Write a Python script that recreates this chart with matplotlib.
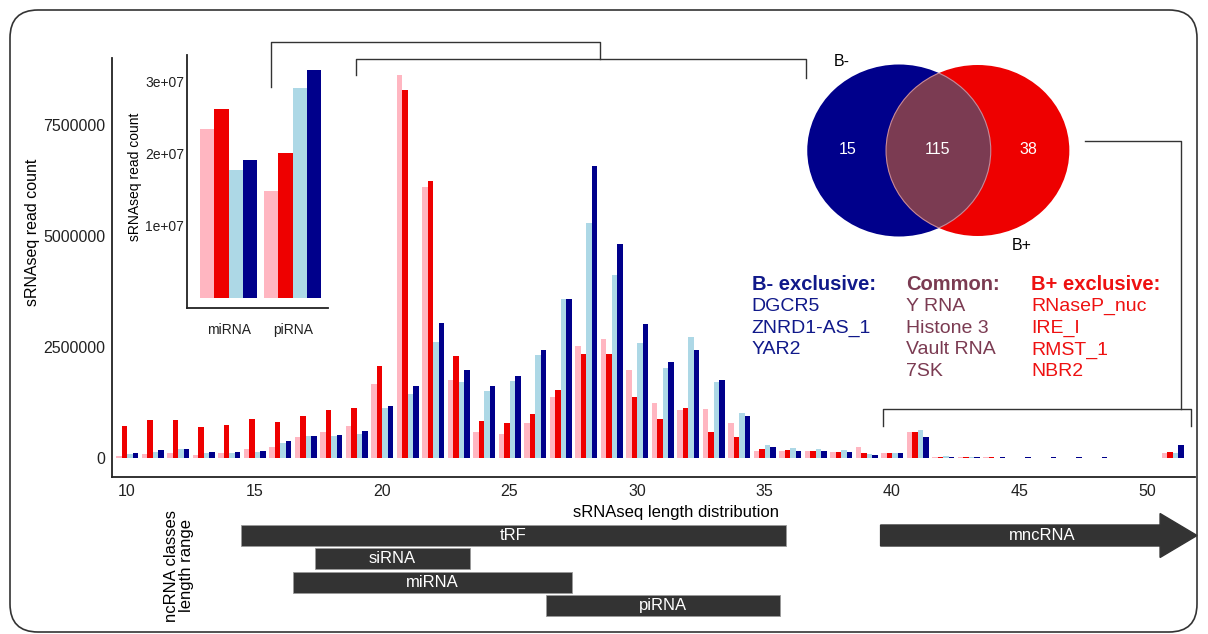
import matplotlib
matplotlib.use('Agg')
import matplotlib.pyplot as plt
import numpy as np
from matplotlib.patches import Ellipse, FancyBboxPatch, FancyArrow

plt.rcParams['font.family'] = ['Liberation Sans', 'DejaVu Sans']

W, H = 1208, 634

# ---------------- data ----------------
lengths = list(range(10, 52))
# read counts in millions, per length (10..51)
bplus_light = [0.05, 0.10, 0.13, 0.07, 0.13, 0.22, 0.26, 0.48, 0.59, 0.74,
               1.67, 8.63, 6.12, 1.76, 0.60, 0.56, 0.80, 1.39, 2.54, 2.69,
               1.99, 1.24, 1.09, 1.11, 0.80, 0.17, 0.17, 0.16, 0.15, 0.25,
               0.13, 0.59, 0.03, 0.02, 0.02, 0.00, 0.00, 0.00, 0.00, 0.00,
               0.00, 0.13]
bplus_dark = [0.73, 0.87, 0.86, 0.71, 0.75, 0.89, 0.83, 0.95, 1.08, 1.14,
              2.09, 8.31, 6.25, 2.30, 0.84, 0.79, 0.99, 1.55, 2.35, 2.35,
              1.39, 0.89, 1.13, 0.59, 0.49, 0.20, 0.19, 0.16, 0.15, 0.13,
              0.13, 0.60, 0.04, 0.02, 0.02, 0.00, 0.00, 0.00, 0.00, 0.00,
              0.00, 0.15]
bminus_light = [0.09, 0.14, 0.21, 0.13, 0.13, 0.14, 0.34, 0.50, 0.50, 0.56,
                1.13, 1.46, 2.62, 1.73, 1.52, 1.74, 2.33, 3.60, 5.31, 4.12,
                2.59, 2.03, 2.73, 1.73, 1.03, 0.30, 0.23, 0.20, 0.18, 0.10,
                0.13, 0.64, 0.05, 0.02, 0.01, 0.01, 0.01, 0.01, 0.01, 0.00,
                0.00, 0.13]
bminus_dark = [0.11, 0.19, 0.22, 0.15, 0.14, 0.16, 0.39, 0.50, 0.52, 0.61,
               1.19, 1.64, 3.05, 2.00, 1.63, 1.86, 2.45, 3.60, 6.58, 4.83,
               3.02, 2.16, 2.44, 1.76, 0.95, 0.26, 0.17, 0.16, 0.15, 0.08,
               0.13, 0.49, 0.03, 0.02, 0.02, 0.02, 0.02, 0.02, 0.02, 0.00,
               0.00, 0.31]
series_colors = ['#FFB6C1', '#EE0000', '#ADD8E6', '#00008B']

y_ticks = [0, 2500000, 5000000, 7500000]
y_ticklabels = ['0', '2500000', '5000000', '7500000']
x_ticks = [10, 15, 20, 25, 30, 35, 40, 45, 50]

inset_categories = ['miRNA', 'piRNA']
inset_bplus_light = [2.34e7, 1.49e7]
inset_bplus_dark = [2.63e7, 2.02e7]
inset_bminus_light = [1.78e7, 2.91e7]
inset_bminus_dark = [1.92e7, 3.17e7]
inset_ticks = [1e7, 2e7, 3e7]
inset_ticklabels = ['1e+07', '2e+07', '3e+07']

class_names = ['tRF', 'siRNA', 'miRNA', 'piRNA']
class_start = [14.47, 17.37, 16.50, 26.43]
class_end = [35.84, 23.45, 27.45, 35.60]
mnc_name = 'mncRNA'
mnc_start, mnc_end = 39.55, 51.96

venn_counts = [15, 115, 38]
venn_sets = ['B-', 'B+']

bminus_exclusive = ['DGCR5', 'ZNRD1-AS_1', 'YAR2']
common = ['Y RNA', 'Histone 3', 'Vault RNA', '7SK']
bplus_exclusive = ['RNaseP_nuc', 'IRE_I', 'RMST_1', 'NBR2']

# ---------------- figure ----------------
fig = plt.figure(figsize=(W / 100, H / 100), dpi=100)
fig.patch.set_facecolor('white')


def rect(l, t, r, b):
    return [l / W, 1 - b / H, (r - l) / W, (b - t) / H]


# main chart
ax = fig.add_axes(rect(112, 58, 1195, 477))
x = np.array(lengths, dtype=float)
w = 0.216
for i, (vals, c) in enumerate(zip([bplus_light, bplus_dark, bminus_light, bminus_dark], series_colors)):
    ax.bar(x + (i - 1.5) * w, np.array(vals) * 1e6, width=w, color=c, linewidth=0)
ax.set_xlim(9.41, 51.88)
ax.set_ylim(-0.42e6, 9.02e6)
ax.set_yticks(y_ticks)
ax.set_yticklabels(y_ticklabels)
ax.set_xticks(x_ticks)
ax.tick_params(length=0, labelsize=11.5, pad=5, colors='#222222')
for s in ['top', 'right']:
    ax.spines[s].set_visible(False)
for s in ['left', 'bottom']:
    ax.spines[s].set_linewidth(1.3)
    ax.spines[s].set_color('#222222')
ax.set_ylabel('sRNAseq read count', fontsize=11.5)
ax.yaxis.set_label_coords((33 - 112) / 1083, (477 - 232) / 419)
ax.yaxis.label.set_va('center')
ax.set_xlabel('sRNAseq length distribution', fontsize=12)
ax.xaxis.set_label_coords((676 - 112) / 1083, -(512 - 477) / 419)
ax.xaxis.label.set_va('center')

# inset
ia = fig.add_axes(rect(187, 55, 328, 308))
xi = np.arange(len(inset_categories))
wi = 0.224
for i, (vals, c) in enumerate(zip([inset_bplus_light, inset_bplus_dark, inset_bminus_light, inset_bminus_dark], series_colors)):
    ia.bar(xi + (i - 1.5) * wi, vals, width=wi, color=c, linewidth=0)
ia.set_xlim(-0.65, 1.55)
ia.set_ylim(-1.4e6, 3.375e7)
ia.set_yticks(inset_ticks)
ia.set_yticklabels(inset_ticklabels)
ia.set_xticks(xi)
ia.set_xticklabels(inset_categories)
ia.tick_params(length=0, labelsize=10, colors='#222222')
ia.tick_params(axis='x', pad=11)
ia.tick_params(axis='y', pad=2)
for s in ['top', 'right']:
    ia.spines[s].set_visible(False)
for s in ['left', 'bottom']:
    ia.spines[s].set_linewidth(1.3)
    ia.spines[s].set_color('#222222')
ia.set_ylabel('sRNAseq read count', fontsize=10)
ia.yaxis.set_label_coords((135 - 187) / 141, (308 - 177) / 253)
ia.yaxis.label.set_va('center')

# ncRNA class ranges
ba = fig.add_axes(rect(112, 500, 1195, 630))
ba.set_xlim(9.41, 51.88)
ba.set_ylim(630, 500)
ba.axis('off')
row_y = [535.5, 559.0, 582.5, 606.0]
for name, s0, e0, yy in zip(class_names, class_start, class_end, row_y):
    ba.barh(yy, e0 - s0, left=s0, height=21, color='#333333', edgecolor='#9a9a9a', linewidth=0.6)
    ba.text((s0 + e0) / 2, yy, name, color='white', ha='center', va='center', fontsize=12)
arr = FancyArrow(mnc_start, 535.5, mnc_end - mnc_start, 0, width=21, head_width=44,
                 head_length=1.45, length_includes_head=True, color='#333333', clip_on=False)
ba.add_patch(arr)
ba.text(mnc_start + (mnc_end - mnc_start) * 0.5 + 0.15, 535.5, mnc_name, color='white',
        ha='center', va='center', fontsize=12)

# overlay: frame, brackets, venn, lists
ov = fig.add_axes([0, 0, 1, 1])
ov.set_xlim(0, W)
ov.set_ylim(H, 0)
ov.axis('off')
ov.patch.set_alpha(0)

frame = FancyBboxPatch((10, 10), 1187, 622, boxstyle='round,pad=0,rounding_size=28',
                       fill=False, ec='#333333', lw=1.2)
ov.add_patch(frame)
ov.text(179, 566, 'ncRNA classes\nlength range', rotation=90, ha='center', va='center',
        fontsize=12, multialignment='center', linespacing=1.0)

lc = '#333333'
ov.plot([271, 271, 600, 600], [87, 42, 42, 59], color=lc, lw=1)
ov.plot([356, 356, 806, 806], [75, 59, 59, 78], color=lc, lw=1)
ov.plot([1085, 1181, 1181], [141, 141, 409], color=lc, lw=1)
ov.plot([883, 883, 1191, 1191], [426, 409, 409, 426], color=lc, lw=1)

# venn
blue = Ellipse((899, 150.5), 183.5, 172, color='#00008B', lw=0)
ov.add_patch(blue)
red = Ellipse((977.7, 150.5), 183.3, 171, color='#EE0000', lw=0)
ov.add_patch(red)
lens = Ellipse((977.7, 150.5), 183.3, 171, facecolor='#7B3B52', edgecolor='#c58a9a', lw=0.8)
ov.add_patch(lens)
lens.set_clip_path(blue)
lens_edge = Ellipse((899, 150.5), 183.5, 172, facecolor='none', edgecolor='#c58a9a', lw=0.8)
ov.add_patch(lens_edge)
lens_edge.set_clip_path(red)
for cnt, xx in zip(venn_counts, [848, 938, 1028]):
    ov.text(xx, 150, str(cnt), color='white', ha='center', va='center', fontsize=11.5)
ov.text(842, 62, venn_sets[0], ha='center', va='center', fontsize=11.5)
ov.text(1022, 245, venn_sets[1], ha='center', va='center', fontsize=11.5)

# lists
cols = [(751.7, 'B- exclusive:', bminus_exclusive, '#10198A'),
        (905.7, 'Common:', common, '#7B3B52'),
        (1031, 'B+ exclusive:', bplus_exclusive, '#EE1111')]
line_y = [306.7, 328.3, 350.0, 371.7]
for xx, title, items, c in cols:
    ov.text(xx, 285, title, color=c, fontsize=14.5, fontweight='bold', ha='left', va='center')
    for it, yy in zip(items, line_y):
        ov.text(xx, yy, it, color=c, fontsize=14, ha='left', va='center')

fig.savefig('out.png', dpi=100)
